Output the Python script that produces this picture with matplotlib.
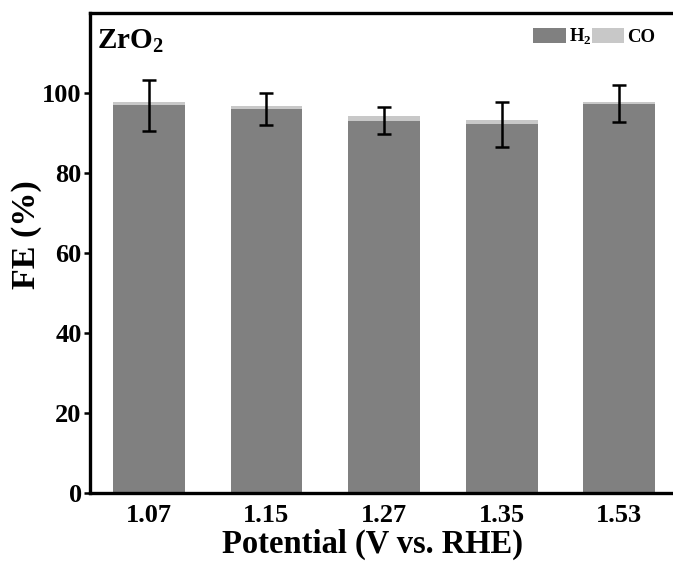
import numpy as np
import matplotlib
matplotlib.use("Agg")
import matplotlib.pyplot as plt

# FE data
potentials = ["1.07", "1.15", "1.27", "1.35", "1.53"]
fe_h2 = [96.9, 96.0, 93.1, 92.2, 97.3]
fe_co = [0.9, 0.8, 1.2, 1.0, 0.4]
fe_err = [6.3, 3.9, 3.4, 5.6, 4.6]

plt.rcParams['font.family'] = ['Liberation Serif', 'DejaVu Serif']
plt.rcParams['font.weight'] = 'bold'
plt.rcParams['mathtext.fontset'] = 'custom'
plt.rcParams['mathtext.rm'] = 'Liberation Serif:bold'
plt.rcParams['mathtext.bf'] = 'Liberation Serif:bold'

fig = plt.figure(figsize=(6.73, 5.61), dpi=100)
ax = fig.add_axes([0.1337, 0.1212, 0.874, 0.8556])

x = np.arange(len(potentials))
w = 0.61
ax.bar(x, fe_h2, w, color='#808080', label='H$_2$')
ax.bar(x, fe_co, w, bottom=fe_h2, color='#c8c8c8', label='CO')
ax.errorbar(x, fe_h2, yerr=fe_err, fmt='none', ecolor='black',
            elinewidth=1.8, capsize=5, capthick=1.8)

ax.set_xlim(-0.5, len(potentials) - 0.5)
ax.set_ylim(0, 120)
ax.set_yticks([0, 20, 40, 60, 80, 100])
ax.set_xticks(x)
ax.set_xticklabels(potentials)
ax.tick_params(axis='y', direction='out', length=4, width=1.8, labelsize=19, pad=2)
ax.tick_params(axis='x', length=0, labelsize=19, pad=8)
for s in ax.spines.values():
    s.set_linewidth(2.4)

ax.set_ylabel('FE (%)', fontsize=24.5, fontweight='bold')
ax.yaxis.set_label_coords(-0.082, 0.5375)
ax.set_xlabel('Potential (V vs. RHE)', fontsize=23.5, fontweight='bold', labelpad=0)
ax.xaxis.set_label_coords(0.48, -0.074)
ax.xaxis.label.set_va('top')

ax.text(0.012, 0.97, 'ZrO$_2$', transform=ax.transAxes, fontsize=21,
        fontweight='bold', va='top', ha='left')

ax.legend(loc='upper right', bbox_to_anchor=(0.98, 0.995), ncol=2, frameon=False,
          fontsize=13.5, handlelength=1.75, handleheight=0.85, handletextpad=0.15,
          columnspacing=0.0, borderaxespad=0.2)

fig.savefig('out.png', dpi=100)
